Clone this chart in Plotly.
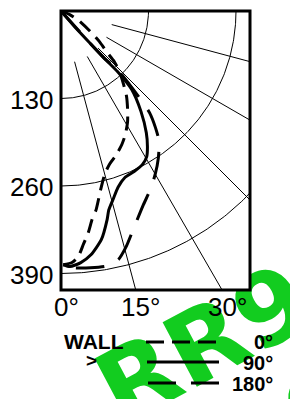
import numpy as np
import plotly.graph_objects as go

# ---------------- data (angle from wall normal in degrees, distance) ----------------
ang_0 = [65, 67.5, 62.5, 55.5, 51.5, 48, 46.5, 44, 40.5, 37.5, 34, 31, 27.5, 24.5, 21, 17.5,
         15, 12.5, 10, 8.5, 7, 5.5, 4, 2.5, 0.5]
dist_0 = [0, 14, 28, 51, 73, 93, 109, 125, 143, 160, 177, 192, 207, 218, 229, 239,
          251, 272, 300, 313, 332, 348, 366, 374, 377]

ang_90 = [45, 41, 42, 42.5, 43, 42, 38.5, 35, 32.5, 30.5, 28, 24.5, 21, 18, 15.5, 13.5,
          12.5, 10, 7, 4.5, 2, 0.5]
dist_90 = [0, 31, 63, 96, 123, 157, 191, 221, 239, 251, 258, 262, 265, 275, 290, 304,
           317, 345, 365, 375, 380, 377]

ang_180 = [45, 42, 42.5, 44, 43, 42, 41, 39, 37, 33.5, 30, 26.5, 23, 18, 15.5, 13, 10,
           6.5, 3, 0.5]
dist_180 = [0, 63, 96, 121, 149, 177, 201, 223, 242, 262, 280, 297, 313, 344, 363, 379,
            385, 384, 382, 377]

dist_ticks = [130, 260, 390]
dist_labels = ["130", "260", "390"]
right_ticks = [90, 75, 60, 45]
bottom_ticks = [0, 15, 30]
radial_angles = [15, 30, 45, 60, 75]
legend_labels = ["0°", "90°", "180°"]
watermark_text = "RR9"

# ---------------- geometry ----------------
OFF = 8                      # page body margin
W, H = 298 - OFF, 399 - OFF
ML, MT = 61 - OFF, 11 - OFF
PW, PH = 189, 279
MR, MB = W - ML - PW, H - MT - PH
S = 130 / 87.5          # distance units per pixel
XMAX = PW * S
YMAX = PH * S


def to_xy(a, d):
    a = np.radians(np.asarray(a, float))
    d = np.asarray(d, float)
    return d * np.sin(a), -d * np.cos(a)


def px_x(px):
    return (px - OFF - ML) / PW


def px_y(py):
    return (MT + PH - (py - OFF)) / PH


fig = go.Figure()

# grid arcs
th = np.linspace(0, 90, 181)
for d in dist_ticks:
    x, y = to_xy(th, np.full_like(th, d))
    fig.add_trace(go.Scatter(x=x, y=y, mode="lines", line=dict(color="black", width=1),
                             hoverinfo="skip"))
# radial lines
for a in radial_angles:
    x, y = to_xy([a, a], [78, 800])
    fig.add_trace(go.Scatter(x=x, y=y, mode="lines", line=dict(color="black", width=1),
                             hoverinfo="skip"))

# curves
for a, d, dash in [(ang_0, dist_0, "14px,8px"), (ang_90, dist_90, "solid"),
                   (ang_180, dist_180, "28px,16px")]:
    x, y = to_xy(a, d)
    fig.add_trace(go.Scatter(x=x, y=y, mode="lines",
                             line=dict(color="black", width=3, dash=dash,
                                       shape="spline", smoothing=0.6)))

FONT = "Liberation Sans"
ann = []
for d, t in zip(dist_ticks, dist_labels):
    ann.append(dict(x=0, y=-d, xref="x", yref="y", text=t, showarrow=False,
                    xanchor="right", yanchor="middle", xshift=-6, yshift=-1,
                    font=dict(family=FONT, size=26, color="black")))
xlab = XMAX + 6.5 * S
for a in right_ticks:
    r = np.radians(a)
    ann.append(dict(x=xlab, y=-xlab * np.cos(r) / np.sin(r), xref="x", yref="y",
                    text=f"{a}°", showarrow=False, xanchor="left", yanchor="middle",
                    font=dict(family=FONT, size=26, color="black")))
for a in bottom_ticks:
    ann.append(dict(x=YMAX * np.tan(np.radians(a)), y=-YMAX, xref="x", yref="y",
                    text=f"{a}°", showarrow=False, xanchor="center", yanchor="middle",
                    xshift=5, yshift=-17,
                    font=dict(family=FONT, size=26, color="black")))

# legend texts
ann.append(dict(x=px_x(62), y=px_y(341), xref="paper", yref="paper", text="<b>WALL</b>",
                showarrow=False, xanchor="left", yanchor="middle",
                font=dict(family=FONT, size=21, color="black")))
ann.append(dict(x=px_x(91), y=px_y(360), xref="paper", yref="paper", text="<b>></b>",
                showarrow=False, xanchor="center", yanchor="middle",
                font=dict(family=FONT, size=19, color="black")))
for lab, py in zip(legend_labels, [342, 363, 384]):
    ann.append(dict(x=px_x(275), y=px_y(py), xref="paper", yref="paper",
                    text=f"<b>{lab}</b>", showarrow=False, xanchor="right",
                    yanchor="middle", font=dict(family=FONT, size=20, color="black")))

shapes = []
# watermark (below everything), two rotated lines
for cx, cy in [(200, 338), (253, 438)]:
    shapes.append(dict(type="rect", xref="paper", yref="paper",
                       x0=px_x(cx - 60), x1=px_x(cx + 60), y0=px_y(cy + 40), y1=px_y(cy - 40),
                       line=dict(width=0), fillcolor="rgba(0,0,0,0)", layer="below",
                       label=dict(text=f"<b>{watermark_text}</b>", textangle=-28,
                                  textposition="middle center",
                                  font=dict(family="DejaVu Sans", size=100,
                                            color="#12cc1f"))))
# white plot area covering the watermark
shapes.append(dict(type="rect", xref="paper", yref="paper", x0=0, x1=1, y0=0, y1=1,
                   line=dict(width=0), fillcolor="white", layer="below"))
# frame
shapes.append(dict(type="rect", xref="paper", yref="paper", x0=0, x1=1, y0=0, y1=1,
                   line=dict(color="black", width=3), layer="above"))
# legend samples
for (x0, x1, py, dash) in [(146, 217, 342, "18px,8px"), (147, 219, 362, "solid"),
                           (148, 219, 383, "28px,15px")]:
    shapes.append(dict(type="line", xref="paper", yref="paper", x0=px_x(x0), x1=px_x(x1),
                       y0=px_y(py), y1=px_y(py), line=dict(color="black", width=3, dash=dash),
                       layer="above"))

fig.update_layout(
    width=W, height=H, autosize=False,
    margin=dict(l=ML, r=MR, t=MT, b=MB, pad=0),
    paper_bgcolor="white", plot_bgcolor="rgba(0,0,0,0)",
    showlegend=False,
    xaxis=dict(range=[0, XMAX], visible=False, fixedrange=True),
    yaxis=dict(range=[-YMAX, 0], visible=False, fixedrange=True),
    annotations=ann, shapes=shapes,
)

fig.write_html("out.html")
